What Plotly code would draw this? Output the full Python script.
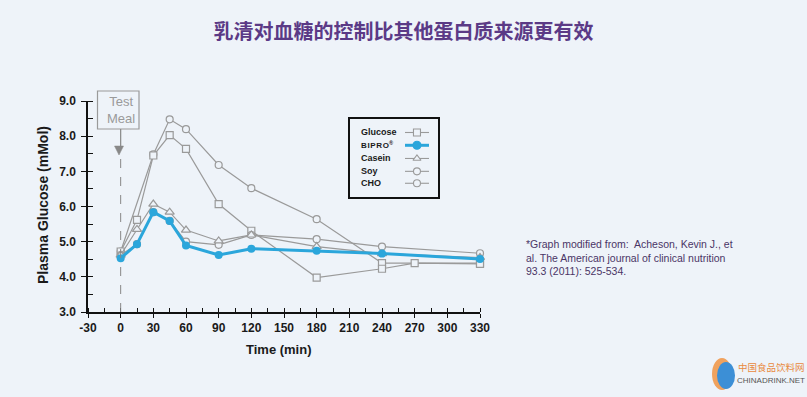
import plotly.graph_objects as go

# ---------------- data ----------------
glucose_t = [0, 15, 30, 45, 60, 90, 120, 180, 240, 270, 330]
glucose_v = [4.72, 5.62, 7.45, 8.03, 7.64, 6.07, 5.31, 3.98, 4.23, 4.39, 4.37]

bipro_t = [0, 15, 30, 45, 60, 90, 120, 180, 240, 330]
bipro_v = [4.53, 4.93, 5.84, 5.59, 4.89, 4.62, 4.80, 4.74, 4.66, 4.51]

casein_t = [0, 15, 30, 45, 60, 90, 120, 180, 240, 330]
casein_v = [4.62, 5.35, 6.07, 5.84, 5.33, 5.02, 5.19, 4.86, 4.66, 4.55]

soy_t = [0, 15, 30, 45, 60, 90, 120, 180, 240, 330]
soy_v = [4.62, 4.93, 5.84, 5.59, 5.00, 4.91, 5.19, 5.07, 4.86, 4.67]

cho_t = [0, 30, 45, 60, 90, 120, 180, 240, 330]
cho_v = [4.72, 7.48, 8.48, 8.20, 7.18, 6.52, 5.64, 4.39, 4.39]

series_names = ["Glucose", "BIPRO<sup>®</sup>", "Casein", "Soy", "CHO"]
x_ticks = [-30, 0, 30, 60, 90, 120, 150, 180, 210, 240, 270, 300, 330]
x_labels = [str(v) for v in x_ticks]
y_ticks = [3.0, 4.0, 5.0, 6.0, 7.0, 8.0, 9.0]

title_text = "乳清对血糖的控制比其他蛋白质来源更有效"
note_text = ("*Graph modified from:  Acheson, Kevin J., et<br>"
             "al. The American journal of clinical nutrition<br>"
             "93.3 (2011): 525-534.")

# ---------------- style ----------------
BG = "#EEF3F9"
GRAY = "#9a9a9a"
BLUE = "#2BA6DB"
FONT = "Liberation Sans, Arial, sans-serif"

fig = go.Figure()

def gray_trace(t, v, symbol, size):
    fig.add_trace(go.Scatter(
        x=t, y=v, mode="lines+markers", showlegend=False,
        line=dict(color=GRAY, width=1.2),
        marker=dict(symbol=symbol, size=size, color=BG,
                    line=dict(color=GRAY, width=1.2)),
        cliponaxis=False))

gray_trace(cho_t, cho_v, ["circle"] * 7 + ["square", "square"], 7)
gray_trace(glucose_t, glucose_v, "square", 7)
gray_trace(soy_t, soy_v, "circle", 7)
gray_trace(casein_t, casein_v, "triangle-up", 8)

fig.add_trace(go.Scatter(
    x=bipro_t, y=bipro_v, mode="lines+markers", showlegend=False,
    line=dict(color=BLUE, width=3),
    marker=dict(symbol="circle", size=8, color=BLUE), cliponaxis=False))

# ---------------- custom legend (axis pair x2/y2) ----------------
leg_y = [0.827, 0.663, 0.494, 0.329, 0.176]
leg_sym = ["square", "circle", "triangle-up", "circle", "circle"]
for i, name in enumerate(series_names):
    is_blue = i == 1
    fig.add_trace(go.Scatter(
        x=[0.625, 0.898], y=[leg_y[i]] * 2, mode="lines", xaxis="x2", yaxis="y2",
        showlegend=False, hoverinfo="skip",
        line=dict(color=BLUE if is_blue else GRAY, width=3 if is_blue else 1.1)))
    fig.add_trace(go.Scatter(
        x=[0.761], y=[leg_y[i]], mode="markers", xaxis="x2", yaxis="y2",
        showlegend=False, hoverinfo="skip",
        marker=dict(symbol=leg_sym[i], size=7 if not is_blue else 8,
                    color=BLUE if is_blue else BG,
                    line=dict(color=BLUE if is_blue else GRAY, width=1.1))))
    txt = name
    size = 9
    if is_blue:
        txt = "B\u200aI\u200aP\u200aR\u200aO<sup>®</sup>"
        size = 8
    fig.add_annotation(x=0.102, y=leg_y[i], xref="x2", yref="y2", text=txt,
                       showarrow=False, xanchor="left", yanchor="middle",
                       font=dict(family=FONT, size=size, color="#1a1a1a", weight="bold"))

def px2paper_x(px):
    return (px - 88) / 392

def px2paper_y(py):
    return (312 - py) / 211

# ---------------- Test Meal marker ----------------
fig.add_shape(type="rect", xref="paper", yref="paper",
              x0=px2paper_x(97.5), x1=px2paper_x(139), y0=px2paper_y(129), y1=px2paper_y(91),
              line=dict(color=GRAY, width=1.2), fillcolor="rgba(0,0,0,0)")
fig.add_annotation(x=0, y=px2paper_y(110), xref="x", yref="paper",
                   text="Test<br>Meal", showarrow=False, xanchor="center", yanchor="middle",
                   font=dict(family=FONT, size=13, color="#9a9a9a"))
# arrow from the box down to the dashed line
fig.add_shape(type="line", xref="x", yref="paper", x0=0, x1=0,
              y0=px2paper_y(147), y1=px2paper_y(129), line=dict(color="#888888", width=1.2))
ax0 = px2paper_x(119)
dxp = 4.5 / 392
fig.add_shape(type="path", xref="paper", yref="paper",
              path=(f"M {ax0 - dxp} {px2paper_y(146)} L {ax0 + dxp} {px2paper_y(146)} "
                    f"L {ax0} {px2paper_y(155)} Z"),
              line=dict(color="#888888", width=0.5), fillcolor="#888888")
fig.add_shape(type="line", xref="x", yref="paper", x0=0, x1=0,
              y0=0, y1=px2paper_y(155), line=dict(color="#888888", width=1, dash="dash"))

# ---------------- axis titles ----------------
fig.add_annotation(x=px2paper_x(279), y=px2paper_y(349), xref="paper", yref="paper",
                   text="Time (min)", showarrow=False, xanchor="center", yanchor="middle",
                   font=dict(family=FONT, size=13, color="#1a1a1a", weight="bold"))
fig.add_annotation(x=px2paper_x(43), y=px2paper_y(205), xref="paper", yref="paper",
                   text="Plasma Glucose (mMol)", showarrow=False, textangle=-90,
                   xanchor="center", yanchor="middle",
                   font=dict(family=FONT, size=14, color="#1a1a1a", weight="bold"))

# ---------------- footnote ----------------
fig.add_annotation(x=px2paper_x(524), y=px2paper_y(236), xref="paper", yref="paper",
                   text=note_text, showarrow=False, xanchor="left", yanchor="top",
                   align="left",
                   font=dict(family=FONT, size=10.5, color="#4a3566"))

# ---------------- watermark ----------------
fig.add_shape(type="circle", xref="paper", yref="paper",
              x0=px2paper_x(712), x1=px2paper_x(732), y0=px2paper_y(390), y1=px2paper_y(358),
              line=dict(width=0), fillcolor="#F0A25E")
fig.add_shape(type="circle", xref="paper", yref="paper",
              x0=px2paper_x(717), x1=px2paper_x(735), y0=px2paper_y(389), y1=px2paper_y(362),
              line=dict(width=0), fillcolor="#3C8FD6")
fig.add_annotation(x=px2paper_x(736), y=px2paper_y(367), xref="paper", yref="paper",
                   text="中国食品饮料网", showarrow=False, xanchor="left", yanchor="middle",
                   font=dict(family="Noto Sans CJK SC", size=9.5, color="#E98A3E"))
fig.add_annotation(x=px2paper_x(735), y=px2paper_y(380), xref="paper", yref="paper",
                   text="CHINADRINK.NET", showarrow=False, xanchor="left", yanchor="middle",
                   font=dict(family=FONT, size=8, color="#555555"))

fig.update_layout(
    width=807, height=397,
    margin=dict(l=88, r=327, t=101, b=85),
    paper_bgcolor=BG, plot_bgcolor=BG,
    title=dict(text=title_text, x=0.5, xanchor="center", y=1 - 32 / 397, yanchor="middle",
               font=dict(family="Noto Sans CJK SC", size=20, color="#5b3a86", weight="bold")),
    xaxis=dict(range=[-30, 330], tickvals=x_ticks, ticktext=x_labels, showgrid=False,
               zeroline=False,
               showline=True, linecolor="#111111", linewidth=1.5,
               ticks="outside", ticklen=4, tickwidth=1.2, tickcolor="#111111",
               minor=dict(dtick=15, tick0=0, ticks="inside", ticklen=4, tickwidth=1.2,
                          tickcolor="#111111", showgrid=False),
               tickfont=dict(family=FONT, size=12, color="#1a1a1a", weight="bold")),
    yaxis=dict(range=[3, 9], tickvals=y_ticks, tickformat=".1f", showgrid=False,
               zeroline=False, showline=True, linecolor="#111111", linewidth=1.5,
               ticks="outside", ticklen=5, tickwidth=1.2, tickcolor="#111111",
               ticklabelstandoff=3,
               minor=dict(dtick=0.5, tick0=0, ticks="inside", ticklen=5, tickwidth=1.2,
                          tickcolor="#111111", showgrid=False),
               tickfont=dict(family=FONT, size=12, color="#1a1a1a", weight="bold")),
    xaxis2=dict(domain=[px2paper_x(350), px2paper_x(438)], range=[0, 1], anchor="y2",
                showgrid=False, zeroline=False, showticklabels=False, ticks="",
                showline=True, mirror=True, linecolor="#111111", linewidth=1.5),
    yaxis2=dict(domain=[px2paper_y(197), px2paper_y(119)], range=[0, 1], anchor="x2",
                showgrid=False, zeroline=False, showticklabels=False, ticks="",
                showline=True, mirror=True, linecolor="#111111", linewidth=1.5),
)

fig.write_html("out.html", config={"displayModeBar": False},
               post_script="document.body.style.margin='0';document.body.style.padding='0';"
                           "document.body.style.overflow='hidden';")
